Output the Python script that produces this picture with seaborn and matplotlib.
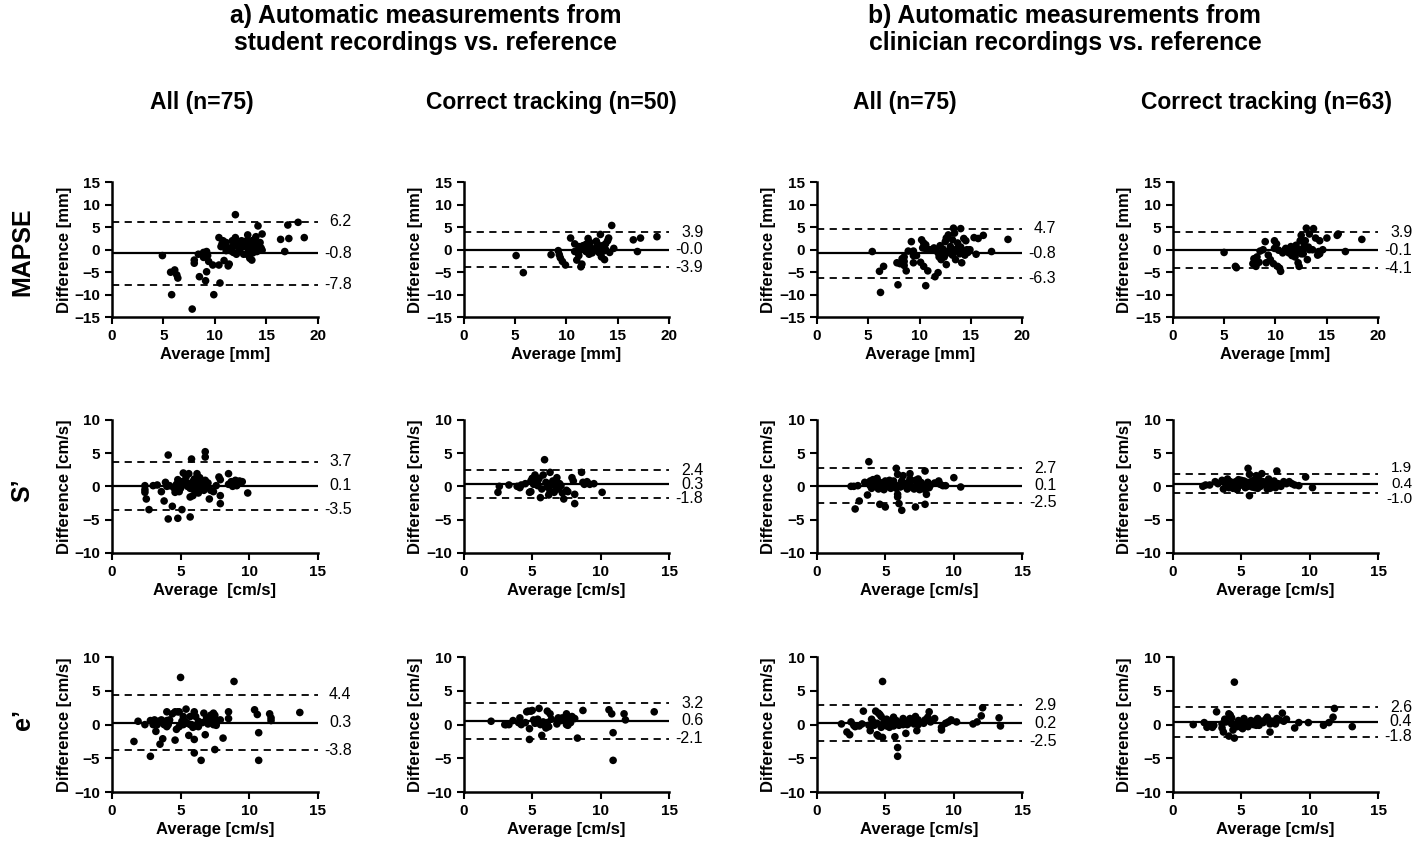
import matplotlib
matplotlib.use("Agg")
import matplotlib.pyplot as plt
import seaborn as sns
import pandas as pd

# ---- data (x = average, y = difference) ----
# MAPSE, student, all (n=75)
m_sa_x = [4.9, 5.7, 6.1, 6.3, 6.4, 5.8, 7.8, 8.0, 8.0, 8.4, 8.5, 8.9, 9.1, 9.2, 9.3, 9.2, 9.4, 9.8, 9.9,
          10.4, 10.4, 10.5, 10.7, 10.8, 10.9, 11.1, 11.1, 11.3, 11.4, 11.1, 11.5, 11.7, 11.8, 12.0, 12.0,
          12.1, 12.2, 12.3, 12.4, 12.6, 12.8, 13.1, 13.1, 13.2, 13.3, 13.4, 13.6, 13.5, 13.7, 13.8, 13.9,
          14.0, 14.1, 14.2, 14.4, 14.5, 14.6, 14.6, 16.4, 16.8, 17.1, 17.2, 18.1, 18.7, 14.0, 12.8, 11.7,
          10.6, 8.9, 13.1, 13.6]
m_sa_y = [-1.3, -5.0, -4.5, -5.6, -6.3, -10.0, -13.2, -3.0, -2.3, -1.0, -6.0, -1.7, -6.9, -0.4, -1.3, -4.9,
          -2.6, -3.4, -10.0, 2.7, -3.4, -7.4, 1.3, 2.0, -2.4, -0.2, 0.5, -3.6, -3.2, 1.6, -0.2, 0.7, -0.6,
          7.8, 2.7, -1.0, 1.4, 0.5, -0.2, 2.0, 0.7, -1.0, 1.3, 3.3, -0.1, -1.9, -2.3, 0.5, -0.7, 1.3, 2.4,
          0.5, -0.4, 5.3, 1.6, 0.4, 3.5, -0.1, 2.3, -0.4, 5.5, 2.5, 6.1, 2.7, 2.9, -1.0, 2.0, 0.7, -0.6,
          2.0, 2.0]
# MAPSE, student, correct tracking (n=50)
m_sc_x = [5.1, 5.8, 8.5, 9.2, 9.3, 9.4, 9.6, 9.9, 10.4, 10.8, 11.0, 11.2, 11.2, 11.4, 11.5, 11.6, 11.7,
          11.9, 12.1, 12.2, 12.3, 12.4, 12.6, 12.9, 13.0, 13.2, 13.3, 13.4, 13.5, 13.7, 13.7, 13.8, 14.0,
          14.1, 14.2, 14.4, 14.6, 16.5, 16.9, 17.2, 18.8, 11.9, 13.1, 13.6, 11.2, 10.8, 12.5, 13.0, 12.2,
          13.8]
m_sc_y = [-1.3, -5.1, -1.1, -0.2, -1.1, -1.8, -2.6, -3.4, 2.6, 1.3, -2.3, 0.7, -0.3, -3.8, -3.2, 0.9, 0.0,
          -0.4, 2.5, -1.0, 1.6, 0.4, 0.0, 1.9, 0.7, -0.7, 3.4, -1.6, 0.9, 0.3, -2.2, 1.3, 2.0, 2.6, -0.6,
          5.4, 0.3, 2.2, -0.4, 2.6, 2.9, 1.2, -0.4, -0.3, -1.3, -0.4, -0.7, 1.3, 0.7, 0.0]
# MAPSE, clinician, all (n=75)
m_ca_x = [5.4, 6.1, 6.5, 6.2, 7.8, 7.9, 8.1, 8.3, 8.5, 8.5, 8.7, 8.9, 9.2, 9.4, 9.4, 9.7, 10.1, 10.2, 10.3,
          10.4, 10.4, 10.5, 10.6, 10.6, 10.8, 11.5, 11.8, 11.4, 11.6, 11.8, 12.0, 12.1, 12.3, 12.4, 12.5,
          12.6, 12.6, 12.8, 12.8, 13.0, 13.2, 13.2, 13.3, 13.4, 13.5, 13.5, 13.7, 13.9, 14.0, 14.1, 14.3,
          14.4, 14.5, 14.6, 14.7, 14.8, 14.9, 15.3, 15.5, 15.7, 16.2, 17.0, 18.6, 11.0, 13.7, 12.1, 13.1,
          10.7, 12.9, 11.9, 14.0, 9.4, 8.5, 14.1]
m_ca_y = [-0.4, -4.8, -3.7, -9.5, -2.9, -7.8, -3.1, -2.0, -3.5, -1.6, -4.7, -0.3, 1.8, -2.9, -0.3, -1.3,
          -2.8, 2.2, 0.4, 1.5, -3.7, 0.4, -8.0, 1.1, -4.7, -6.0, -5.1, 0.4, -0.1, -0.7, 0.9, -1.3, 0.1,
          -1.6, 1.8, -3.3, 2.6, -0.4, 3.3, 0.7, 2.2, -1.2, 4.8, 3.7, 0.0, -2.2, 0.3, -0.9, 4.7, -2.9, 2.5,
          -1.2, 2.0, 0.0, -0.6, -0.1, 0.0, 2.7, -1.0, 2.5, 3.2, -0.4, 2.3, 0.0, 1.5, -2.2, -0.7, 0.0, -0.7,
          -1.6, 0.6, -1.3, -2.6, -0.3]
# MAPSE, clinician, correct tracking (n=63)
m_cc_x = [5.0, 6.1, 6.2, 7.8, 7.9, 8.1, 8.2, 8.5, 8.8, 9.0, 9.1, 9.3, 9.8, 9.9, 9.9, 10.1, 10.2, 10.4,
          10.5, 10.3, 11.0, 11.2, 11.3, 11.5, 11.6, 11.8, 11.9, 12.0, 12.2, 12.3, 12.4, 12.5, 12.6, 12.7,
          12.9, 13.0, 13.1, 13.3, 13.3, 13.7, 13.9, 14.1, 14.2, 14.3, 14.6, 15.0, 16.0, 16.1, 16.8, 18.4,
          12.1, 12.8, 10.9, 11.4, 12.4, 14.3, 13.6, 9.5, 8.4, 10.7, 11.8, 12.5, 13.2]
m_cc_y = [-0.6, -3.7, -4.0, -3.1, -2.0, -3.7, -1.6, -0.3, 0.0, 1.8, -2.9, -1.2, -3.1, 2.0, 0.3, 1.3, -3.7,
          -4.1, -4.8, -0.1, 0.3, -0.3, -0.7, 0.7, -1.3, 0.1, -1.6, 1.0, -2.9, -3.7, 2.0, 3.2, 0.0, -0.9,
          2.0, 4.8, -2.2, 3.5, 0.0, 4.7, 2.6, -1.2, -0.4, 2.0, 0.0, 2.6, 3.2, 3.5, -0.4, 2.3, -0.4, 0.9,
          -0.1, -0.6, 0.0, -0.9, 0.0, -2.2, -2.8, -0.7, -0.7, -0.9, 0.6]

# S', student, all (n=75)
s_sa_x = [2.4, 2.4, 2.4, 2.5, 2.7, 3.3, 3.6, 3.8, 3.9, 4.0, 4.1, 4.1, 4.2, 4.4, 4.6, 4.7, 4.8, 4.8, 4.9,
          5.1, 5.1, 5.2, 5.4, 5.5, 5.6, 5.7, 5.7, 5.8, 5.8, 5.9, 6.0, 6.0, 6.1, 6.2, 6.3, 6.4, 6.4, 6.5,
          6.6, 6.7, 6.8, 6.8, 6.8, 6.9, 7.0, 7.1, 7.2, 7.4, 7.8, 7.9, 7.9, 7.9, 8.5, 8.5, 8.7, 8.8, 9.0,
          9.1, 9.3, 9.5, 9.9, 5.3, 6.4, 5.7, 5.0, 4.5, 6.7, 5.9, 3.0, 7.6, 9.1, 6.3, 5.5, 4.9]
s_sa_y = [0.1, -0.5, -0.9, -1.9, -3.5, 0.2, -0.8, -2.2, 0.6, 0.0, 4.7, -4.9, 0.1, -3.0, -0.9, 0.3, 1.0,
          -4.8, -0.8, 0.7, -3.5, 2.0, 1.4, 0.5, 1.9, -4.6, -1.6, 4.1, 0.1, -1.4, 1.1, -0.5, 0.3, 1.9, -1.0,
          0.7, 1.3, -0.2, 0.4, -0.6, 0.9, 4.4, 5.2, 0.0, 0.5, -1.9, -0.6, -0.8, 1.4, 1.0, -1.4, -2.6, 1.9,
          0.3, 0.7, 0.0, 0.9, 0.5, 0.8, 0.7, -1.0, 0.5, -0.3, -0.3, -0.3, -0.2, 0.0, 0.7, 0.1, 0.1, 0.1,
          0.2, 0.0, 0.1]
# S', student, correct tracking (n=50)
s_sc_x = [2.5, 2.6, 3.3, 3.9, 4.1, 4.2, 4.5, 4.8, 4.9, 4.9, 5.0, 5.1, 5.2, 5.4, 5.5, 5.6, 5.7, 5.8, 5.9,
          6.0, 6.1, 6.2, 6.3, 6.3, 6.4, 6.5, 6.6, 6.7, 6.8, 6.9, 7.0, 7.1, 7.2, 7.3, 7.5, 7.6, 7.9, 8.0,
          8.1, 8.1, 8.6, 8.7, 8.8, 9.0, 9.2, 9.5, 10.1, 5.4, 6.7, 6.1]
s_sc_y = [-0.9, 0.0, 0.2, 0.0, -0.2, 0.2, 0.4, -0.9, 0.8, -0.8, 1.2, 0.3, 1.7, 0.8, 1.2, -1.7, -0.4, 1.7,
          4.0, 0.6, -0.1, -1.3, -0.7, 2.1, 0.3, 0.8, -0.9, 0.0, 1.3, -0.4, 0.4, 0.1, -1.0, -1.9, -0.6,
          -0.8, 1.3, 0.8, -1.2, -2.6, 2.1, 0.6, 0.3, 0.7, 0.3, 0.4, -0.9, 0.1, 0.7, 0.3]
# S', clinician, all (n=75)
s_ca_x = [2.5, 2.7, 2.8, 3.0, 3.1, 3.5, 3.7, 3.8, 3.9, 4.0, 4.1, 4.3, 4.4, 4.5, 4.6, 4.6, 4.8, 4.9, 5.0,
          5.0, 5.2, 5.3, 5.4, 5.5, 5.6, 5.7, 5.8, 5.9, 5.9, 5.9, 6.0, 6.1, 6.2, 6.2, 6.3, 6.4, 6.5, 6.6,
          6.8, 6.8, 6.9, 7.1, 7.2, 7.2, 7.3, 7.4, 7.5, 7.6, 7.8, 7.9, 7.9, 8.0, 8.1, 8.2, 8.3, 8.6, 8.9,
          9.0, 9.2, 9.4, 10.0, 10.5, 5.8, 7.3, 5.3, 6.8, 4.4, 6.1, 7.5, 5.7, 4.7, 3.9, 7.8, 6.6, 5.0]
s_ca_y = [0.0, 0.0, -3.4, 0.1, -2.2, 0.6, -1.3, 3.7, 0.8, -0.3, 1.0, 0.1, 1.2, -0.4, 0.6, -2.7, 0.1, -0.5,
          -3.1, 0.8, 0.3, 0.9, -0.3, 0.5, 0.8, 0.2, 2.7, 1.8, -1.2, -1.6, -2.6, -0.1, -3.6, 0.8, 1.6, 0.2,
          0.0, 0.5, 1.9, 1.1, -0.1, -0.4, 0.9, -3.1, 0.3, 1.1, -0.5, 0.6, 0.1, -2.7, 2.3, -1.2, 0.6, -0.2,
          0.2, 0.5, 0.8, 0.3, 0.1, 0.1, 1.3, -0.1, -0.3, -0.1, -0.1, 0.3, 0.3, 0.3, 0.0, 0.0, -0.1, 0.1,
          -0.4, -0.4, 0.3]
# S', clinician, correct tracking (n=63)
s_cc_x = [2.2, 2.4, 2.7, 3.1, 3.3, 3.6, 3.7, 3.8, 4.0, 4.1, 4.2, 4.3, 4.4, 4.6, 4.7, 4.8, 4.9, 5.0, 5.1,
          5.3, 5.4, 5.5, 5.6, 5.6, 5.7, 5.9, 6.0, 6.1, 6.2, 6.3, 6.4, 6.5, 6.6, 6.8, 6.9, 7.0, 7.1, 7.3,
          7.4, 7.5, 7.6, 7.7, 7.9, 8.1, 8.3, 8.5, 8.7, 8.9, 9.2, 9.7, 10.2, 5.8, 6.2, 5.5, 3.9, 5.2, 6.9,
          7.4, 4.8, 6.0, 7.1, 4.2, 5.7]
s_cc_y = [0.0, 0.2, 0.2, 0.7, 0.4, 0.9, -0.4, 0.6, 1.1, -0.2, 0.2, 0.4, -0.3, 0.7, -0.5, 1.0, 0.4, 0.9,
          0.2, -0.2, 0.6, 2.7, -1.4, 1.8, 0.2, 0.9, -0.2, 1.6, 0.4, 1.0, 0.0, 1.9, 0.7, 0.2, -0.4, 1.1,
          0.4, 0.0, 0.8, -0.2, 2.3, 0.4, 0.0, 0.7, 0.4, 0.7, 0.4, 0.2, 0.1, 1.4, -0.2, -0.1, -0.3, 0.0,
          0.2, 0.8, 0.4, 0.2, 0.0, 0.4, -0.3, 0.7, 0.7]

# e', student, all (n=75)
e_sa_x = [1.6, 1.9, 2.4, 2.8, 2.8, 3.0, 3.1, 3.2, 3.4, 3.5, 3.6, 3.7, 3.8, 4.0, 4.0, 4.1, 4.2, 4.4, 4.6,
          4.6, 4.7, 4.8, 4.9, 5.0, 5.1, 5.2, 5.3, 5.4, 5.5, 5.6, 5.7, 5.8, 5.9, 6.0, 6.0, 6.0, 6.1, 6.1,
          6.3, 6.4, 6.5, 6.6, 6.7, 6.8, 6.9, 7.0, 7.2, 7.3, 7.4, 7.4, 7.5, 7.5, 7.6, 7.7, 7.8, 7.9, 8.1,
          8.5, 8.5, 8.9, 10.4, 10.6, 10.7, 10.7, 11.5, 11.6, 11.6, 13.7, 5.7, 4.9, 7.0, 4.0, 6.3, 5.2, 3.3]
e_sa_y = [-2.5, 0.5, 0.0, 0.6, -4.7, 0.0, 0.7, -1.0, 0.5, -2.9, 0.7, -2.1, 0.0, 0.6, 1.9, 0.0, 0.7, 1.6,
          1.9, -2.3, -0.7, 1.9, 1.9, 7.0, 0.5, 1.2, 0.5, 2.3, 0.2, -1.6, 1.2, 0.0, -0.4, 1.9, -4.2, -2.2,
          1.2, -0.2, 0.5, 0.2, -5.3, 0.3, 1.7, -1.5, 1.0, 0.7, 1.4, 0.8, 1.7, 0.0, -3.7, 1.4, -0.1, 0.5,
          0.6, 0.7, -2.0, 0.9, 1.9, 6.4, 2.2, 1.5, -1.2, -5.3, 1.6, 1.0, 0.6, 1.8, 0.0, -0.3, 0.1, -0.3,
          -0.3, 0.0, 0.0]
# e', student, correct tracking (n=50)
e_sc_x = [2.0, 3.0, 3.1, 3.3, 3.6, 4.0, 4.1, 4.2, 4.5, 4.6, 4.7, 4.8, 4.8, 4.9, 5.0, 5.1, 5.2, 5.3, 5.4,
          5.5, 5.6, 5.7, 5.8, 5.9, 6.0, 6.1, 6.1, 6.2, 6.3, 6.4, 6.8, 6.9, 7.1, 7.2, 7.4, 7.5, 7.5, 7.6,
          7.6, 7.8, 7.9, 8.1, 8.3, 8.7, 10.6, 10.8, 10.9, 10.9, 11.7, 11.8, 13.9]
e_sc_y = [0.5, 0.0, 0.0, 0.0, 0.6, 0.3, 1.0, 0.0, 0.3, 1.9, 2.0, -0.6, -2.2, 2.0, 2.1, 0.7, 0.2, 0.3, 0.8,
          2.4, 0.0, -1.6, 0.4, -0.1, -0.5, 2.0, 0.3, -0.3, 1.6, 0.8, 0.1, 1.0, 0.6, 1.0, 0.6, 0.0, 1.6,
          1.1, -0.1, 0.3, 1.2, 0.9, -2.0, 2.1, 2.2, 1.6, -1.2, -5.3, 1.6, 0.7, 1.9]
# e', clinician, all (n=75)
e_ca_x = [1.8, 2.2, 2.4, 2.5, 2.7, 2.8, 3.1, 3.3, 3.4, 3.8, 3.9, 4.0, 4.1, 4.2, 4.3, 4.4, 4.5, 4.5, 4.6,
          4.7, 4.7, 4.8, 4.8, 4.9, 5.0, 5.1, 5.2, 5.3, 5.4, 5.6, 5.7, 5.7, 5.8, 5.9, 5.9, 6.0, 6.2, 6.3,
          6.5, 6.5, 6.7, 6.8, 7.0, 7.1, 7.2, 7.3, 7.4, 7.5, 7.8, 7.9, 8.1, 8.2, 8.3, 8.6, 9.1, 9.1, 9.4,
          9.6, 9.8, 10.2, 11.4, 11.7, 12.0, 12.1, 13.3, 13.4, 5.5, 5.1, 6.3, 7.1, 7.4, 4.4, 6.0, 6.6, 5.6]
e_ca_y = [0.1, -1.1, -1.5, 0.4, -0.1, -0.3, -0.2, 0.1, 2.0, -0.1, -0.9, 0.8, 0.4, -0.1, 2.0, -1.5, 1.7,
          -1.7, 1.5, 1.2, -0.4, 6.4, -1.9, 0.4, 0.0, 0.8, 0.0, -0.4, 0.4, 1.1, -1.8, 0.0, 0.6, -3.4, -4.7,
          -0.1, 0.4, 0.9, 0.5, -1.3, 0.2, 0.9, 0.4, 0.6, 1.2, -0.9, 0.7, 0.3, 0.2, 0.7, 1.1, 1.9, 0.4,
          0.9, -0.4, -0.8, 0.2, 0.4, 0.7, 0.4, 0.1, 0.4, 1.3, 2.5, 1.0, -0.2, 0.0, -0.2, 0.0, 0.1, 0.0,
          0.2, 0.1, 0.0, -0.2]
# e', clinician, correct tracking (n=63)
e_cc_x = [1.5, 2.3, 2.5, 2.7, 2.9, 3.0, 3.2, 3.6, 3.6, 3.7, 3.8, 3.9, 4.1, 4.1, 4.2, 4.3, 4.4, 4.5, 4.5,
          4.6, 4.7, 4.8, 4.9, 5.0, 5.1, 5.2, 5.3, 5.5, 5.6, 5.7, 5.9, 6.0, 6.2, 6.3, 6.5, 6.6, 6.8, 6.9,
          7.1, 7.2, 7.3, 7.5, 7.6, 7.8, 8.0, 8.1, 8.3, 8.9, 9.2, 9.9, 11.0, 11.4, 11.7, 11.8, 13.1, 5.5,
          5.0, 6.1, 7.1, 4.3, 6.3, 5.2, 7.0]
e_cc_y = [0.0, 0.3, -0.4, -0.1, -0.4, -0.1, 1.9, 0.1, -0.5, -1.1, 0.8, 0.4, 1.6, -1.7, 1.4, 1.0, -0.8,
          -2.0, 6.3, 0.1, -0.3, 0.6, -0.1, 0.3, -0.6, 0.9, 0.2, -0.3, 0.1, 0.6, 0.0, 0.5, 0.9, 0.2, 0.5,
          0.3, 0.8, 1.1, -1.1, 0.3, 0.5, 0.1, 0.9, 0.7, 1.7, 0.5, 0.8, -0.5, 0.3, 0.3, -0.1, 0.3, 1.1,
          2.4, -0.3, 0.3, -0.4, -0.1, 0.1, 0.1, -0.1, 0.0, 0.7]

# bias, upper and lower limits of agreement, per panel (row-major)
bias = [-0.8, -0.0, -0.8, -0.1, 0.1, 0.3, 0.1, 0.4, 0.3, 0.6, 0.2, 0.4]
upper = [6.2, 3.9, 4.7, 3.9, 3.7, 2.4, 2.7, 1.9, 4.4, 3.2, 2.9, 2.6]
lower = [-7.8, -3.9, -6.3, -4.1, -3.5, -1.8, -2.5, -1.0, -3.8, -2.1, -2.5, -1.8]

row_names = ["MAPSE", "S\u2019", "e\u2019"]
col_titles = ["All (n=75)", "Correct tracking (n=50)", "All (n=75)", "Correct tracking (n=63)"]
x_labels = [["Average [mm]"] * 4,
            ["Average  [cm/s]", "Average [cm/s]", "Average [cm/s]", "Average [cm/s]"],
            ["Average [cm/s]"] * 4]
y_labels = ["Difference [mm]", "Difference [cm/s]", "Difference [cm/s]"]
x_max = [20, 15, 15]
y_max = [15, 10, 10]

panels = [(m_sa_x, m_sa_y), (m_sc_x, m_sc_y), (m_ca_x, m_ca_y), (m_cc_x, m_cc_y),
          (s_sa_x, s_sa_y), (s_sc_x, s_sc_y), (s_ca_x, s_ca_y), (s_cc_x, s_cc_y),
          (e_sa_x, e_sa_y), (e_sc_x, e_sc_y), (e_ca_x, e_ca_y), (e_cc_x, e_cc_y)]

sns.set_style("ticks")
plt.rcParams["font.family"] = ["Liberation Sans", "DejaVu Sans"]
for key in ["text.color", "axes.labelcolor", "xtick.color", "ytick.color", "axes.edgecolor"]:
    plt.rcParams[key] = "black"

fig = plt.figure(figsize=(14.18, 8.48), dpi=100)

lefts = [0.079, 0.327, 0.576, 0.827]
bottoms = [0.626, 0.348, 0.066]
heights = [0.159, 0.157, 0.159]

for r in range(3):
    for c in range(4):
        i = r * 4 + c
        ax = fig.add_axes([lefts[c], bottoms[r], 0.145, heights[r]])
        px, py = panels[i]
        df = pd.DataFrame({"avg": px, "diff": py})
        sns.scatterplot(data=df, x="avg", y="diff", ax=ax, color="black", s=30,
                        edgecolor="none", legend=False)
        ax.axhline(bias[i], color="black", lw=1.6)
        ax.axhline(upper[i], color="black", lw=1.3, ls=(0, (4, 3)))
        ax.axhline(lower[i], color="black", lw=1.3, ls=(0, (4, 3)))
        xm, ym = x_max[r], y_max[r]
        ax.set_xlim(0, xm)
        ax.set_ylim(-ym, ym)
        ax.set_xticks(range(0, xm + 1, 5))
        ax.set_yticks(range(-ym, ym + 1, 5))
        # push the limit labels apart a little when the lines sit close together
        tight = (upper[i] - bias[i]) < 2.0
        for v, off in ((upper[i], 4 if tight else 0), (bias[i], 0), (lower[i], -4 if tight else 0)):
            ax.annotate(f"{v:.1f}", xy=(xm * 1.165, v), xytext=(0, off),
                        textcoords="offset points", ha="right", va="center",
                        fontsize=11.5 if not tight else 11, annotation_clip=False)
        ax.set_xlabel(x_labels[r][c], fontsize=12, fontweight="bold", labelpad=3)
        ax.set_ylabel(y_labels[r], fontsize=12, fontweight="bold", labelpad=2)
        ax.tick_params(direction="out", length=5, width=1.5, labelsize=11)
        for lab in ax.get_xticklabels() + ax.get_yticklabels():
            lab.set_fontweight("bold")
        for sp in ["left", "bottom"]:
            ax.spines[sp].set_linewidth(1.8)
        sns.despine(ax=ax)

# headers
fig.text(0.30, 0.965, "a) Automatic measurements from\nstudent recordings vs. reference",
         ha="center", va="center", fontsize=17.8, fontweight="bold", linespacing=1.15)
fig.text(0.751, 0.965, "b) Automatic measurements from\nclinician recordings vs. reference",
         ha="center", va="center", fontsize=17.8, fontweight="bold", linespacing=1.15)
for cx, t in zip([0.142, 0.389, 0.638, 0.893], col_titles):
    fig.text(cx, 0.879, t, ha="center", va="center", fontsize=16.5, fontweight="bold")
for cy, t in zip([0.703, 0.422, 0.151], row_names):
    fig.text(0.016, cy, t, ha="center", va="center", rotation=90, fontsize=18,
             fontweight="bold")

fig.savefig("out.png", dpi=100)
